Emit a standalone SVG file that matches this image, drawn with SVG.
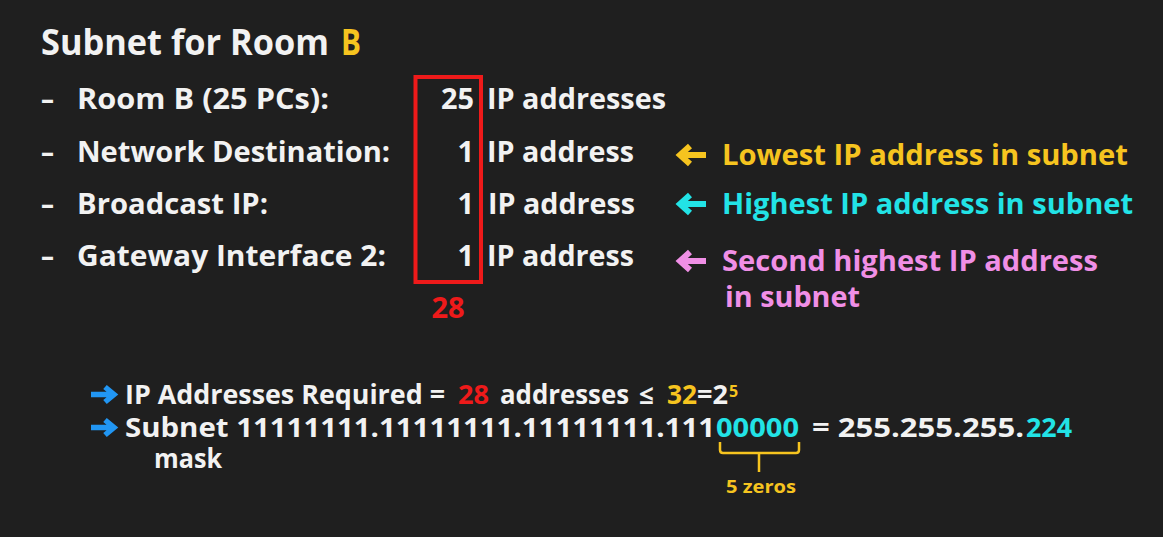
<svg xmlns="http://www.w3.org/2000/svg" width="1163" height="537" viewBox="0 0 1163 537">
  <style>
    text { font-family: "Open Sans", "Liberation Sans", sans-serif; font-weight: 700; }
    .w { fill: #f2f2f2; }
    .y { fill: #f6c41f; }
    .c { fill: #22e3e6; }
    .p { fill: #f08fe6; }
    .r { fill: #ee1a1a; }
    .row { font-size: 29px; }
    .bot { font-size: 26px; }
  </style>
  <defs>
    <path id="larrow" d="M 12,-9 L 2,0 L 12,9 M 4,0 L 28,0" fill="none" stroke-width="6" stroke-linejoin="miter" stroke-linecap="butt"/>
    <path id="rarrow" d="M 0,0 L 22,0 M 14,-7.5 L 23,0 L 14,7.5" fill="none" stroke="#2196f3" stroke-width="5.5" stroke-linejoin="miter"/>
  </defs>
  <rect x="0" y="0" width="1163" height="537" fill="#1f1f1f"/>

  <g id="title">
    <text x="41" y="55" font-size="35" class="w" textLength="288" lengthAdjust="spacingAndGlyphs">Subnet for Room</text>
    <text x="341" y="55" font-size="35" class="y" textLength="20" lengthAdjust="spacingAndGlyphs">B</text>
  </g>

  <g id="rows" class="row">
    <g id="row1">
      <text x="41" y="109" class="w" textLength="13" lengthAdjust="spacingAndGlyphs">–</text>
      <text x="77" y="109" class="w" textLength="252" lengthAdjust="spacingAndGlyphs">Room B (25 PCs):</text>
      <text x="441" y="109" class="w" textLength="33" lengthAdjust="spacingAndGlyphs">25</text>
      <text x="487" y="109" class="w" textLength="179" lengthAdjust="spacingAndGlyphs">IP addresses</text>
    </g>
    <g id="row2">
      <text x="41" y="162" class="w" textLength="13" lengthAdjust="spacingAndGlyphs">–</text>
      <text x="77" y="162" class="w" textLength="313" lengthAdjust="spacingAndGlyphs">Network Destination:</text>
      <text x="474" y="162" class="w" text-anchor="end">1</text>
      <text x="487" y="162" class="w" textLength="147" lengthAdjust="spacingAndGlyphs">IP address</text>
    </g>
    <g id="row3">
      <text x="41" y="214" class="w" textLength="13" lengthAdjust="spacingAndGlyphs">–</text>
      <text x="77" y="214" class="w" textLength="191" lengthAdjust="spacingAndGlyphs">Broadcast IP:</text>
      <text x="474" y="214" class="w" text-anchor="end">1</text>
      <text x="488" y="214" class="w" textLength="147" lengthAdjust="spacingAndGlyphs">IP address</text>
    </g>
    <g id="row4">
      <text x="41" y="266" class="w" textLength="13" lengthAdjust="spacingAndGlyphs">–</text>
      <text x="77" y="266" class="w" textLength="309" lengthAdjust="spacingAndGlyphs">Gateway Interface 2:</text>
      <text x="474" y="266" class="w" text-anchor="end">1</text>
      <text x="487" y="266" class="w" textLength="147" lengthAdjust="spacingAndGlyphs">IP address</text>
    </g>
  </g>

  <g id="sum-box">
    <rect x="415.5" y="77" width="65.5" height="205" fill="none" stroke="#ee1a1a" stroke-width="4"/>
    <text x="448" y="318" font-size="29" class="r" text-anchor="middle">28</text>
  </g>

  <g id="notes" class="row">
    <g id="note-lowest">
      <use href="#larrow" x="678" y="155" stroke="#f6c41f"/>
      <text x="722" y="165" class="y" textLength="406" lengthAdjust="spacingAndGlyphs">Lowest IP address in subnet</text>
    </g>
    <g id="note-highest">
      <use href="#larrow" x="678" y="204" stroke="#22e3e6"/>
      <text x="722" y="214" class="c" textLength="411" lengthAdjust="spacingAndGlyphs">Highest IP address in subnet</text>
    </g>
    <g id="note-second">
      <use href="#larrow" x="678" y="261" stroke="#f08fe6"/>
      <text x="722" y="271" class="p" textLength="376" lengthAdjust="spacingAndGlyphs">Second highest IP address</text>
      <text x="725" y="307" class="p" textLength="135" lengthAdjust="spacingAndGlyphs">in subnet</text>
    </g>
  </g>

  <g id="calc" class="bot">
    <g id="line1">
      <use href="#rarrow" x="91" y="394.5"/>
      <text x="125" y="404" class="w" textLength="320" lengthAdjust="spacingAndGlyphs">IP Addresses Required =</text>
      <text x="458" y="404" class="r" textLength="31" lengthAdjust="spacingAndGlyphs">28</text>
      <text x="500" y="404" class="w" textLength="129" lengthAdjust="spacingAndGlyphs">addresses</text>
      <text x="639" y="404" class="w">≤</text>
      <text x="667" y="404" class="y" textLength="30" lengthAdjust="spacingAndGlyphs">32</text>
      <text x="697" y="404" class="w" textLength="31" lengthAdjust="spacingAndGlyphs">=2</text>
      <text x="729" y="397" font-size="16" class="y">5</text>
    </g>
    <g id="line2">
      <use href="#rarrow" x="91" y="427.5"/>
      <text x="125" y="437" class="w" textLength="590" lengthAdjust="spacingAndGlyphs">Subnet 11111111.11111111.11111111.111</text>
      <text x="716" y="437" class="c" textLength="83" lengthAdjust="spacingAndGlyphs">00000</text>
      <text x="812" y="437" class="w" textLength="212" lengthAdjust="spacingAndGlyphs">= 255.255.255.</text>
      <text x="1026" y="437" class="c" textLength="46" lengthAdjust="spacingAndGlyphs">224</text>
      <text x="154" y="468" class="w" textLength="68" lengthAdjust="spacingAndGlyphs">mask</text>
    </g>
  </g>

  <g id="zeros-brace">
    <path d="M 720,442 V 450 Q 720,453 723,453 H 796 Q 799,453 799,450 V 442 M 759,453 V 472" fill="none" stroke="#f6c41f" stroke-width="2.5"/>
    <text x="726" y="493" font-size="18" class="y" textLength="70" lengthAdjust="spacingAndGlyphs">5 zeros</text>
  </g>
</svg>
